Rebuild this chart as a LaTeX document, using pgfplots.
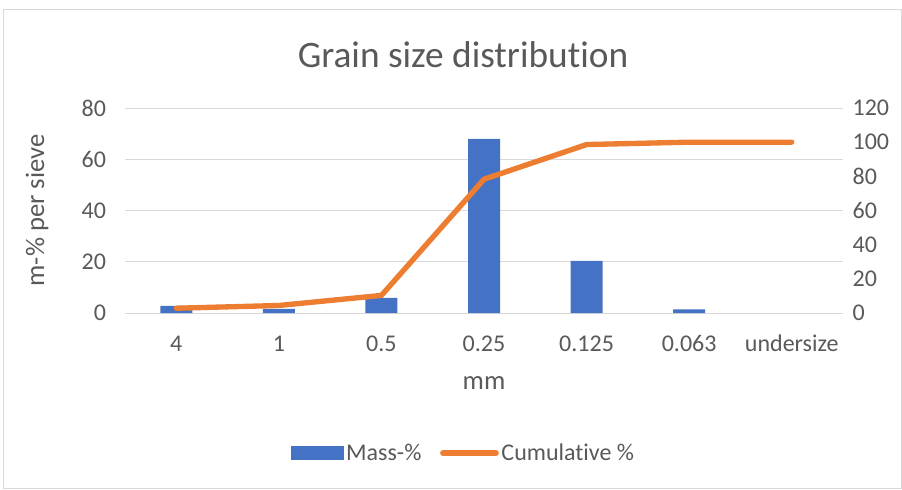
\documentclass[border=0pt]{standalone}
\usepackage{pgfplots}
\pgfplotsset{compat=1.18}
\usepackage{fontspec}
\setmainfont{Carlito}[Ligatures={NoCommon}]
\definecolor{barblue}{HTML}{4472C4}
\definecolor{lineorange}{HTML}{ED7D31}
\definecolor{txt}{HTML}{595959}
\definecolor{gridc}{HTML}{D9D9D9}
\begin{document}
\begin{tikzpicture}
\useasboundingbox (0pt,0pt) rectangle (676.5pt,-366.75pt);
\draw[gridc, line width=0.75pt] (2.25pt,-6.75pt) rectangle (675.75pt,-366pt);
\node[text=txt, font=\fontsize{28}{34}\selectfont] at (347.25pt,-41.25pt) {Grain size distribution};
\begin{axis}[
  at={(93.75pt,-234.75pt)}, anchor=south west,
  scale only axis, width=538.5pt, height=153.75pt,
  xmin=-0.5, xmax=6.5, ymin=0, ymax=80, ytick={0,20,...,80},
  xtick={0,...,6}, xticklabels={4,1,0.5,0.25,0.125,0.063,undersize},
  axis line style={draw=none}, major tick length=0pt,
  ymajorgrids, grid style={gridc, line width=0.75pt},
  tick label style={font=\fontsize{18}{22}\selectfont, text=txt},
  /pgf/number format/assume math mode=true,
  xticklabel style={anchor=base, yshift=-28.5pt},
  yticklabel style={anchor=east, inner sep=0pt, xshift=-14pt},
  xlabel={mm}, ylabel={m-\% per sieve},
  label style={font=\fontsize{20}{24}\selectfont, text=txt},
  xlabel style={at={(axis description cs:0.5,-0.3415)}, anchor=center},
  ylabel style={at={(axis description cs:-0.1225,0.5)}, anchor=center, rotate=0},
]
\addplot[ybar, bar width=24pt, fill=barblue, draw=none] coordinates {
(0,2.8) (1,1.6) (2,5.9) (3,68.0) (4,20.3) (5,1.4)
};
\end{axis}
\begin{axis}[
  at={(93.75pt,-234.75pt)}, anchor=south west,
  scale only axis, width=538.5pt, height=153.75pt,
  xmin=-0.5, xmax=6.5, ymin=0, ymax=120, ytick={0,20,...,120},
  axis y line*=right, hide x axis,
  axis line style={draw=none}, major tick length=0pt,
  tick label style={font=\fontsize{18}{22}\selectfont, text=txt},
  /pgf/number format/assume math mode=true,
  yticklabel style={anchor=west, inner sep=0pt, xshift=7pt},
  legend columns=2,
  legend style={at={(axis description cs:0.472,-0.683)}, anchor=center, draw=none, fill=none,
    font=\fontsize{18}{22}\selectfont, text=txt,
    /tikz/every even column/.append style={column sep=12pt}},
]
\addlegendimage{legend image code/.code={\fill[barblue] (0pt,-4.9pt) rectangle (39pt,4.9pt);}}
\addlegendentry{Mass-\%}
\addplot[lineorange, line width=4pt, line cap=round, line join=round,
  legend image code/.code={\draw[lineorange, line width=4pt, line cap=round] (0pt,0pt) -- (40pt,0pt);}]
  coordinates {
(0,2.8) (1,4.4) (2,10.3) (3,78.3) (4,98.6) (5,100.0) (6,100.0)
};
\addlegendentry{Cumulative \%}
\end{axis}
\end{tikzpicture}
\end{document}
